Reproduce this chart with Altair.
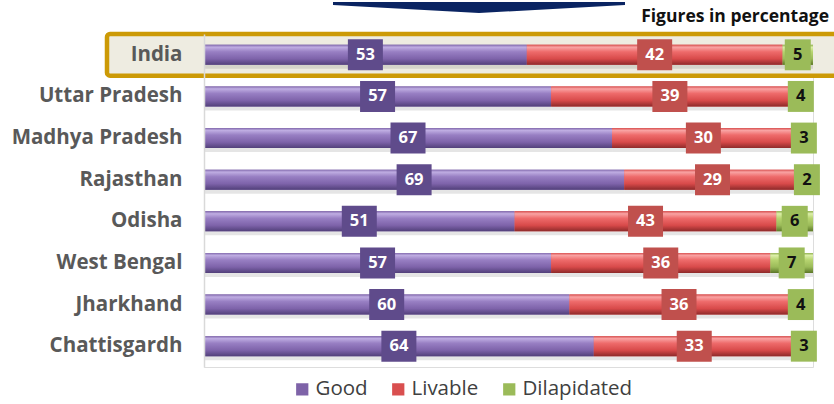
import altair as alt
import pandas as pd

states = ["India", "Uttar Pradesh", "Madhya Pradesh", "Rajasthan",
          "Odisha", "West Bengal", "Jharkhand", "Chattisgardh"]
good = [53, 57, 67, 69, 51, 57, 60, 64]
livable = [42, 39, 30, 29, 43, 36, 36, 33]
dilapidated = [5, 4, 3, 2, 6, 7, 4, 3]
categories = ["Good", "Livable", "Dilapidated"]

rows = []
for i, s in enumerate(states):
    start = 0
    for cat, vals in zip(categories, [good, livable, dilapidated]):
        v = vals[i]
        rows.append({"state": s, "cat": cat, "value": v, "start": start,
                     "end": start + v, "mid": start + v / 2.0,
                     "two": v >= 10})
        start += v
df = pd.DataFrame(rows)

FONT = "Open Sans"
Y = alt.Y("state:N", sort=states, title=None,
          scale=alt.Scale(paddingOuter=0, paddingInner=0),
          axis=alt.Axis(labelFont=FONT, labelFontWeight="bold", labelFontSize=20.5,
                        labelColor="#595959", ticks=False, grid=False,
                        domainColor="#D9D9D9", domainWidth=1.5, labelPadding=22))
X = alt.X("start:Q", scale=alt.Scale(domain=[0, 100], nice=False, zero=True), axis=None)

base = alt.Chart(df)

highlight = base.transform_filter(alt.datum.state == "India").transform_filter(
    alt.datum.cat == "Good").mark_rect(
    fill="#EEECE1", stroke="#CC9A06", strokeWidth=4.5, cornerRadius=3
).encode(y=Y, x=alt.value(-97), x2=alt.value(660))

shadow = base.mark_bar(size=20, yOffset=4, color="#000000", opacity=0.10).encode(
    y=Y, x=X, x2="end:Q")

main = base.mark_bar(size=20).encode(
    y=Y, x=X, x2="end:Q",
    color=alt.Color("cat:N", sort=categories,
                    scale=alt.Scale(domain=categories,
                                    range=["#7E63A8", "#D94F4F", "#9BBB59"]),
                    legend=alt.Legend(title=None, orient="none", direction="horizontal",
                                      legendX=88, legendY=345, symbolType="square",
                                      symbolSize=150, symbolStrokeWidth=0,
                                      labelFont=FONT, labelFontSize=20.5,
                                      labelColor="#404040", columnPadding=20,
                                      labelOffset=3)))

def grad(stops):
    return alt.Gradient(gradient="linear", x1=0, x2=0, y1=0, y2=1,
                        stops=[alt.GradientStop(color=c, offset=o) for o, c in stops])

grads = {
    "Good": grad([(0, "#8269AD"), (0.12, "#BFADE2"), (0.35, "#987FC3"),
                  (0.7, "#7E63AA"), (1, "#52407A")]),
    "Livable": grad([(0, "#D85050"), (0.12, "#F9A3A3"), (0.35, "#EE6B6B"),
                     (0.7, "#D84A4A"), (1, "#8E2A2A")]),
    "Dilapidated": grad([(0, "#8FAF4E"), (0.12, "#DCEFA8"), (0.35, "#B7D470"),
                         (0.7, "#9BBB59"), (1, "#5C7728")]),
}
glayers = [base.transform_filter(alt.datum.cat == c).mark_bar(size=20, color=grads[c])
           .encode(y=Y, x=X, x2="end:Q") for c in categories]

box_scale = alt.Scale(domain=categories, range=["#5F4B8B", "#C0504D", "#9BBB59"])
XM = alt.X("mid:Q", scale=alt.Scale(domain=[0, 100], nice=False), axis=None)
box2 = base.transform_filter(alt.datum.two == True).mark_point(
    shape="M-1,-0.886L1,-0.886L1,0.886L-1,0.886Z", size=1225, filled=True,
    opacity=1, strokeWidth=0).encode(
    y=Y, x=XM, color=alt.Color("cat:N", scale=box_scale, legend=None))
box1 = base.transform_filter(alt.datum.two == False).mark_point(
    shape="M-1,-1.19L1,-1.19L1,1.19L-1,1.19Z", size=676, filled=True,
    opacity=1, strokeWidth=0).encode(
    y=Y, x=XM, color=alt.Color("cat:N", scale=box_scale, legend=None))

labels = base.mark_text(font=FONT, fontWeight="bold", fontSize=16.5, baseline="middle").encode(
    y=Y, x=XM, text="value:Q",
    color=alt.condition(alt.datum.cat == "Dilapidated", alt.value("#111111"),
                        alt.value("#FFFFFF")))

one = base.transform_filter(alt.datum.state == "India").transform_filter(alt.datum.cat == "Good")
arrow = one.mark_point(
    shape="M-1,-0.034L1,-0.034L1,-0.014L0,0.041L-1,-0.014Z", size=85264,
    filled=True, opacity=1, strokeWidth=0, color="#0A2462").encode(
    x=alt.value(275), y=alt.value(-27))
note = one.mark_text(text="Figures in percentage", font=FONT, fontWeight="bold",
                     fontSize=17.5, align="right", baseline="middle", color="#111111").encode(
    x=alt.value(625), y=alt.value(-17))

chart = alt.layer(highlight, shadow, main, *glayers, box2, box1, labels, arrow, note).resolve_scale(
    color="independent").properties(
    width=609, height=333,
    autosize=alt.AutoSizeParams(type="none"),
    padding={"left": 204, "top": 34, "right": 21, "bottom": 37},
).configure_view(stroke=None).configure(background="white")

chart.save("out.html", embed_options={"renderer": "svg", "actions": False})
